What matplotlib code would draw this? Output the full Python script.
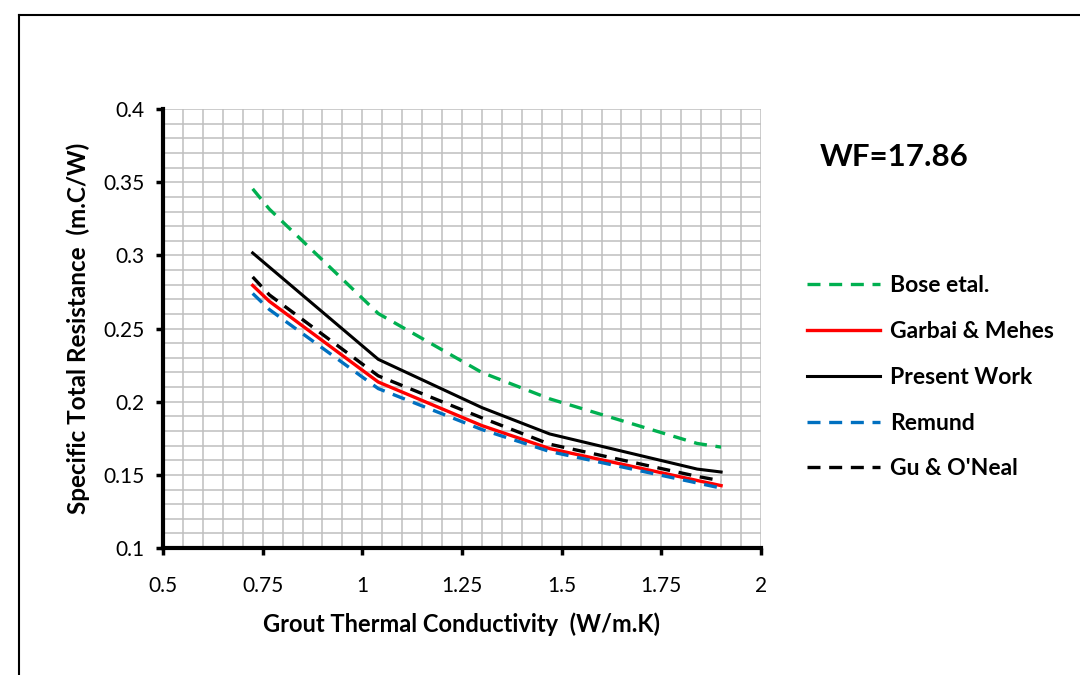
import numpy as np
import matplotlib
matplotlib.use("Agg")
import matplotlib.pyplot as plt
from matplotlib.lines import Line2D
from matplotlib.ticker import MultipleLocator, FormatStrFormatter

plt.rcParams['font.family'] = ['Lato', 'DejaVu Sans']

# Values
conductivity = [0.725, 0.767, 1.04, 1.30, 1.47, 1.84, 1.90]
bose = [0.3455, 0.3316, 0.2603, 0.2200, 0.2020, 0.1715, 0.1690]
garbai = [0.2795, 0.2686, 0.2135, 0.1837, 0.1680, 0.1462, 0.1427]
present = [0.3017, 0.2920, 0.2290, 0.1960, 0.1780, 0.1540, 0.1520]
remund = [0.2740, 0.2630, 0.2090, 0.1810, 0.1660, 0.1445, 0.1410]
gu_oneal = [0.2853, 0.2730, 0.2177, 0.1890, 0.1710, 0.1490, 0.1460]

labels = ["Bose etal.", "Garbai & Mehes", "Present Work", "Remund", "Gu & O'Neal"]

fig = plt.figure(figsize=(10.8, 6.75), dpi=100)
ax = fig.add_axes([0.1509, 0.188, 0.5537, 0.6504])

dash = (0, (3.9, 2.6))
ax.plot(conductivity, bose, color='#00B050', lw=2.4, linestyle=dash, label=labels[0])
ax.plot(conductivity, garbai, color='#FF0000', lw=2.4, label=labels[1])
ax.plot(conductivity, present, color='black', lw=2.2, label=labels[2])
ax.plot(conductivity, remund, color='#0070C0', lw=2.4, linestyle=dash, label=labels[3])
ax.plot(conductivity, gu_oneal, color='black', lw=2.4, linestyle=dash, label=labels[4])

ax.set_xlim(0.5, 2.0)
ax.set_ylim(0.1, 0.4)
ax.xaxis.set_major_locator(MultipleLocator(0.25))
ax.xaxis.set_minor_locator(MultipleLocator(0.05))
ax.yaxis.set_major_locator(MultipleLocator(0.05))
ax.yaxis.set_minor_locator(MultipleLocator(0.01))
ax.xaxis.set_major_formatter(FormatStrFormatter('%g'))
ax.yaxis.set_major_formatter(FormatStrFormatter('%g'))

ax.grid(True, which='both', color='#BFBFBF', lw=1.1, zorder=0)
ax.set_axisbelow(True)

for side in ['top', 'right']:
    ax.spines[side].set_visible(False)
for side in ['left', 'bottom']:
    ax.spines[side].set_linewidth(3.0)
ax.tick_params(which='major', direction='out', length=5, width=2.5, labelsize=15)
ax.tick_params(axis='x', which='major', pad=15)
ax.tick_params(axis='y', which='major', pad=8)
ax.tick_params(which='minor', length=0)

ax.set_xlabel("Grout Thermal Conductivity  (W/m.K)", fontsize=17, fontweight='bold', labelpad=12)
ax.set_ylabel("Specific Total Resistance  (m.C/W)", fontsize=17.5, fontweight='bold', labelpad=10)

fig.text(0.759, 0.767, "WF=17.86", fontsize=22.5, fontweight='bold', va='center', ha='left')

fig.legend(loc='upper left', bbox_to_anchor=(0.747, 0.592), frameon=False,
           prop={'weight': 'bold', 'size': 16.5}, handlelength=3.2,
           handletextpad=0.45, labelspacing=1.08, borderpad=0, borderaxespad=0)

# outer frame of the figure box
fig.add_artist(Line2D([19 / 1080, 19 / 1080], [0, 1 - 15 / 675], color='black', lw=1.5))
fig.add_artist(Line2D([19 / 1080, 1], [1 - 15 / 675, 1 - 15 / 675], color='black', lw=1.5))

fig.savefig("out.png", dpi=100)
